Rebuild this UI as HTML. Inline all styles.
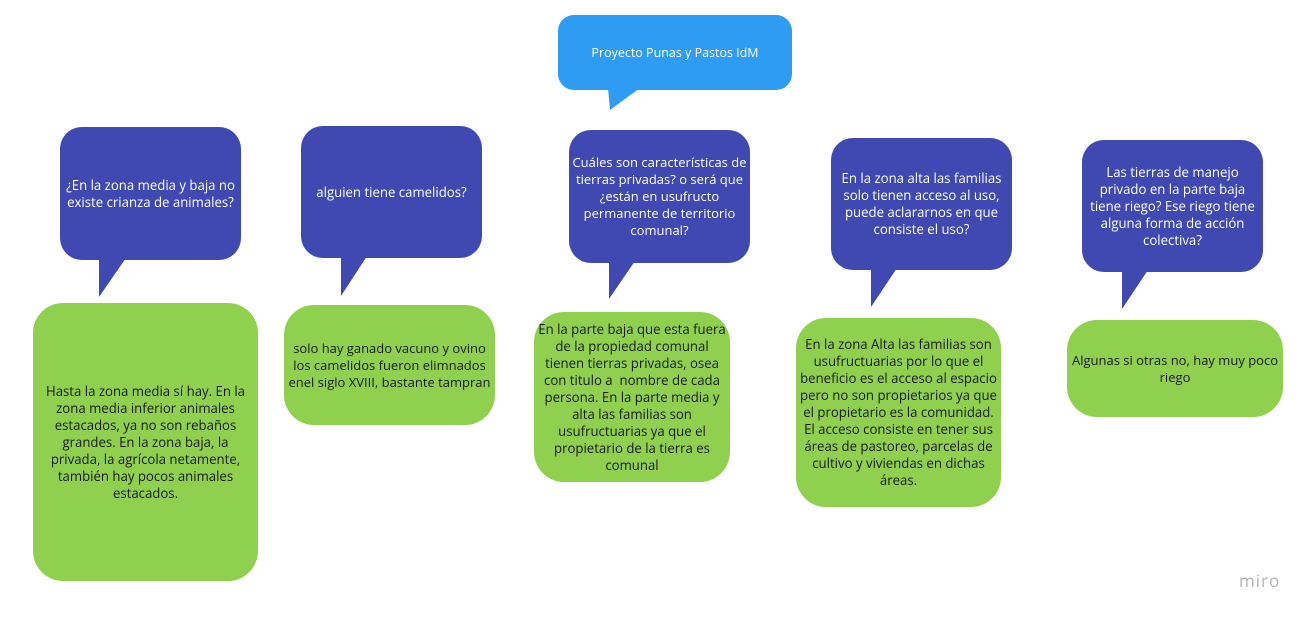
<!DOCTYPE html>
<html><head><meta charset="utf-8"><style>
body{margin:0;width:1311px;height:617px;background:#fff;position:relative;overflow:hidden;font-family:"Open Sans","Liberation Sans","DejaVu Sans",sans-serif;}
.b{position:absolute;display:flex;align-items:center;justify-content:center;text-align:center;font-size:13.2px;line-height:17px;box-sizing:border-box;padding:0 8px;}
.q{background:#3f49b1;color:#fff;border-radius:22px;}
.g{background:#8fd14f;color:#1a1a1a;border-radius:30px;}
svg{position:absolute;left:0;top:0;}
</style></head><body>
<svg width="1311" height="617">
<polygon points="608,88 640,88 610,110" fill="#2d9cf2"/>
<polygon points="99,255 128,255 99,297" fill="#3f49b1"/>
<polygon points="341,253 369,253 341,296" fill="#3f49b1"/>
<polygon points="609,258 637,258 609,299" fill="#3f49b1"/>
<polygon points="871,265 899,265 871,307" fill="#3f49b1"/>
<polygon points="1122,267 1150,267 1122,309" fill="#3f49b1"/>
</svg>
<div class="b" style="left:558px;top:15px;width:234px;height:75px;background:#2d9cf2;color:#fff;border-radius:16px;font-size:12.5px;">Proyecto Punas y Pastos IdM</div>
<div class="b q" style="left:60px;top:127px;width:181px;height:133px;padding:0 4px;">¿En la zona media y baja no existe crianza de animales?</div>
<div class="b q" style="left:301px;top:126px;width:181px;height:132px;">alguien tiene camelidos?</div>
<div class="b q" style="left:569px;top:130px;width:181px;height:133px;padding:0 1px;font-size:13px;">Cuáles son características de tierras privadas? o será que ¿están en usufructo permanente de territorio comunal?</div>
<div class="b q" style="left:831px;top:138px;width:181px;height:132px;padding:0 10px;">En la zona alta las familias solo tienen acceso al uso, puede aclararnos en que consiste el uso?</div>
<div class="b q" style="left:1082px;top:140px;width:181px;height:132px;padding:0 8px;">Las tierras de manejo privado en la parte baja tiene riego? Ese riego tiene alguna forma de acción colectiva?</div>
<div class="b g" style="left:33px;top:303px;width:225px;height:278px;padding:0 12px;">Hasta la zona media sí hay. En la zona media inferior animales estacados, ya no son rebaños grandes. En la zona baja, la privada, la agrícola netamente, también hay pocos animales estacados.</div>
<div class="b g" style="left:284px;top:305px;width:211px;height:120px;padding:0;font-size:13px;">solo hay ganado vacuno y ovino los camelidos fueron elimnados enel siglo XVIII, bastante tampran</div>
<div class="b g" style="left:534px;top:312px;width:196px;height:170px;padding:0 3px;">En la parte baja que esta fuera de la propiedad comunal tienen tierras privadas, osea con titulo a &nbsp;nombre de cada persona. En la parte media y alta las familias son usufructuarias ya que el propietario de la tierra es comunal</div>
<div class="b g" style="left:796px;top:318px;width:205px;height:189px;padding:0 2px;">En la zona Alta las familias son usufructuarias por lo que el beneficio es el acceso al espacio pero no son propietarios ya que el propietario es la comunidad. El acceso consiste en tener sus áreas de pastoreo, parcelas de cultivo y viviendas en dichas áreas.</div>
<div class="b g" style="left:1067px;top:320px;width:216px;height:97px;padding:0;font-size:13px;">Algunas si otras no, hay muy poco riego</div>
<div style="position:absolute;left:1239px;top:569px;color:#b5b5b5;font-size:17px;letter-spacing:1px;">miro</div>
</body></html>
